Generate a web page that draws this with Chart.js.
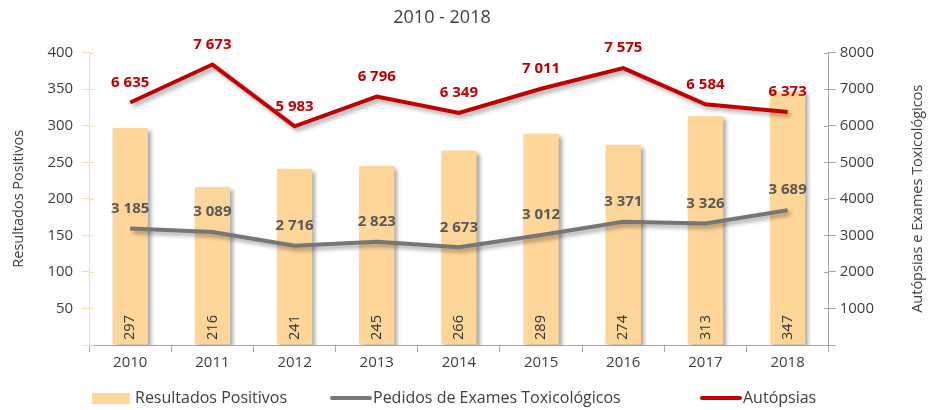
<!DOCTYPE html>
<html>
<head>
<meta charset="utf-8">
<script src="https://cdn.jsdelivr.net/npm/chart.js@4.4.1/dist/chart.umd.min.js"></script>
<style>
  html, body { margin: 0; padding: 0; background: #fff; }
  #wrap { width: 928px; height: 410px; }
</style>
</head>
<body>
<div id="wrap"><canvas id="chart"></canvas></div>
<script>
const years = ["2010", "2011", "2012", "2013", "2014", "2015", "2016", "2017", "2018"];
const positivos = [297, 216, 241, 245, 266, 289, 274, 313, 347];
const pedidos = [3185, 3089, 2716, 2823, 2673, 3012, 3371, 3326, 3689];
const autopsias = [6635, 7673, 5983, 6796, 6349, 7011, 7575, 6584, 6373];

const FONT = "'Open Sans', sans-serif";
const TEXT = "#404040";
const rightTitle = "Autópsias e Exames Toxicológicos";

function fmt(v) {
  return String(v).replace(/\B(?=(\d{3})+(?!\d))/g, " ");
}

// drop shadow for bars and lines
const shadowPlugin = {
  id: "shadow",
  beforeDatasetDraw(chart) {
    const ctx = chart.ctx;
    ctx.save();
    ctx.shadowColor = "rgba(0,0,0,0.35)";
    ctx.shadowBlur = 4;
    ctx.shadowOffsetX = 3;
    ctx.shadowOffsetY = 3;
  },
  afterDatasetDraw(chart) {
    chart.ctx.restore();
  }
};

// value labels
const labelPlugin = {
  id: "labels",
  afterDatasetsDraw(chart) {
    const ctx = chart.ctx;
    chart.data.datasets.forEach((ds, i) => {
      const meta = chart.getDatasetMeta(i);
      meta.data.forEach((el, j) => {
        const v = ds.data[j];
        ctx.save();
        ctx.textAlign = "center";
        ctx.textBaseline = "middle";
        if (ds.type === "bar") {
          ctx.font = "14.5px " + FONT;
          ctx.fillStyle = "#333";
          ctx.translate(el.x, el.base - 17);
          ctx.rotate(-Math.PI / 2);
          ctx.fillText(fmt(v), 0, 0);
        } else {
          ctx.font = "bold 15px " + FONT;
          ctx.fillStyle = ds.labelColor;
          ctx.fillText(fmt(v), el.x, el.y - 20);
        }
        ctx.restore();
      });
    });
  }
};

// inner half of the y tick marks, right axis title (bottom to top) and legend
const extrasPlugin = {
  id: "extras",
  beforeDatasetsDraw(chart) {
    const ctx = chart.ctx;
    ctx.save();
    ctx.lineWidth = 1;
    [["y", 1], ["y1", -1]].forEach(([id, dir]) => {
      const s = chart.scales[id];
      const x0 = id === "y" ? s.right : s.left;
      ctx.strokeStyle = s.options.grid.color;
      s.ticks.forEach(t => {
        const py = Math.round(s.getPixelForValue(t.value)) + 0.5;
        ctx.beginPath();
        ctx.moveTo(x0, py);
        ctx.lineTo(x0 + dir * 5, py);
        ctx.stroke();
      });
    });
    ctx.restore();
  },
  afterDraw(chart) {
    const ctx = chart.ctx;
    const area = chart.chartArea;
    ctx.save();
    ctx.font = "14.5px " + FONT;
    ctx.fillStyle = TEXT;
    ctx.textAlign = "center";
    ctx.textBaseline = "middle";
    ctx.translate(918, (area.top + area.bottom) / 2);
    ctx.rotate(-Math.PI / 2);
    ctx.fillText(rightTitle, 0, 0);
    ctx.restore();

    const starts = [92, 330, 700];
    const y = 398;
    ctx.save();
    ctx.font = "16px " + FONT;
    ctx.textBaseline = "middle";
    ctx.textAlign = "left";
    chart.data.datasets.forEach((ds, i) => {
      const x = starts[i];
      if (ds.type === "bar") {
        ctx.fillStyle = ds.backgroundColor;
        ctx.fillRect(x, y - 5, 38, 11);
      } else {
        ctx.strokeStyle = ds.borderColor;
        ctx.lineWidth = 4;
        ctx.lineCap = "round";
        ctx.beginPath();
        ctx.moveTo(x + 2, y);
        ctx.lineTo(x + 40, y);
        ctx.stroke();
      }
      ctx.fillStyle = TEXT;
      ctx.fillText(ds.label, x + 43, y);
    });
    ctx.restore();
  }
};

new Chart(document.getElementById("chart"), {
  data: {
    labels: years,
    datasets: [
      {
        type: "bar",
        label: "Resultados Positivos",
        data: positivos,
        yAxisID: "y",
        backgroundColor: "#FFD699",
        borderWidth: 0,
        barPercentage: 0.86,
        categoryPercentage: 0.5,
        order: 3
      },
      {
        type: "line",
        label: "Pedidos de Exames Toxicológicos",
        data: pedidos,
        yAxisID: "y1",
        borderColor: "#767676",
        backgroundColor: "#767676",
        borderWidth: 4,
        pointRadius: 0,
        tension: 0,
        labelColor: "#595959",
        order: 2
      },
      {
        type: "line",
        label: "Autópsias",
        data: autopsias,
        yAxisID: "y1",
        borderColor: "#C00000",
        backgroundColor: "#C00000",
        borderWidth: 4,
        pointRadius: 0,
        tension: 0,
        labelColor: "#C00000",
        order: 1
      }
    ]
  },
  options: {
    responsive: true,
    maintainAspectRatio: false,
    animation: false,
    layout: { padding: { left: 6, right: 50, top: 0, bottom: 36 } },
    plugins: {
      title: {
        display: true,
        text: "2010 - 2018",
        color: TEXT,
        font: { family: FONT, size: 18, weight: "normal" },
        padding: { top: 7, bottom: 24 }
      },
      legend: { display: false },
      tooltip: { enabled: false }
    },
    scales: {
      x: {
        grid: { display: true, drawOnChartArea: false, offset: true, color: "#A6A6A6", tickLength: 7 },
        border: { color: "#A6A6A6", width: 1 },
        ticks: { color: TEXT, font: { family: FONT, size: 15 }, padding: 2 }
      },
      y: {
        position: "left",
        min: 0,
        max: 400,
        ticks: {
          stepSize: 50,
          color: TEXT,
          font: { family: FONT, size: 15 },
          padding: 9,
          callback: v => v === 0 ? "" : v
        },
        grid: { drawOnChartArea: false, color: "#FCD9A8", tickLength: 7 },
        border: { color: "#FCD9A8", width: 1 },
        title: {
          display: true,
          text: "Resultados Positivos",
          color: TEXT,
          font: { family: FONT, size: 14.5 },
          padding: { top: 4, bottom: 11 }
        }
      },
      y1: {
        position: "right",
        min: 0,
        max: 8000,
        ticks: {
          stepSize: 1000,
          color: TEXT,
          font: { family: FONT, size: 15 },
          padding: 4,
          callback: v => v === 0 ? "" : v
        },
        grid: { drawOnChartArea: false, color: "#A6A6A6", tickLength: 7 },
        border: { color: "#A6A6A6", width: 1 }
      }
    }
  },
  plugins: [shadowPlugin, labelPlugin, extrasPlugin]
});
</script>
</body>
</html>
